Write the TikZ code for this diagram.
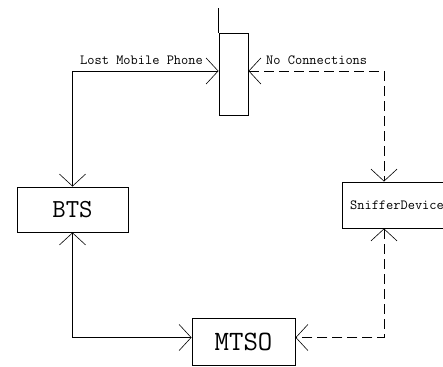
\documentclass[tikz,border=0pt]{standalone}
\usetikzlibrary{positioning}
\usetikzlibrary{arrows.meta}

\begin{document}
\begin{tikzpicture}[x=1pt,y=-1pt,font=\ttfamily]
	\tikzstyle{unit} = [draw,line width=0.9pt,rectangle,inner sep=0pt]
	\tikzstyle{link} = [line width=0.6pt,{Straight Barb[length=12pt,width=26pt]}-{Straight Barb[length=12pt,width=26pt]}]
	\tikzstyle{nolink} = [link,dash pattern=on 10pt off 5pt]
	\tikzstyle{lbl} = [font=\ttfamily\fontsize{14}{16}\selectfont,inner sep=0pt]

	\useasboundingbox (0,0) rectangle (443,366);

	\node[unit,minimum width=29pt,minimum height=82pt] at (233.5,74) (phone) {};
	\node[unit,minimum width=111pt,minimum height=45pt,font=\ttfamily\fontsize{26}{30}\selectfont] at (72.5,209.5) (bts) {BTS};
	\node[unit,minimum width=103pt,minimum height=47pt,font=\ttfamily\fontsize{28}{32}\selectfont] at (243.5,341.5) (mtso) {MTSO};
	\node[unit,minimum width=110pt,minimum height=46pt,font=\ttfamily\fontsize{14}{16}\selectfont] at (397,205) (sniffer) {SnifferDevice};
	\coordinate (sx) at (384,337);

	% antenna
	\draw[line width=0.9pt] (phone.north west) -- ++(0,-25);

	\node[lbl,anchor=base east] at (203,65) (lost) {Lost Mobile Phone};
	\node[lbl,anchor=base west] at (266,65) (nocon) {No Connections};

	\begin{scope}[link]
		\draw ([yshift=3pt]phone.west) -| (bts.north);
		\draw (bts.south) |- ([yshift=4pt]mtso.west);
	\end{scope}
	\begin{scope}[nolink]
		\draw ([yshift=3pt]phone.east) -| (sniffer.north -| sx);
		\draw (sniffer.south -| sx) |- ([yshift=4pt]mtso.east);
	\end{scope}
\end{tikzpicture}
\end{document}
